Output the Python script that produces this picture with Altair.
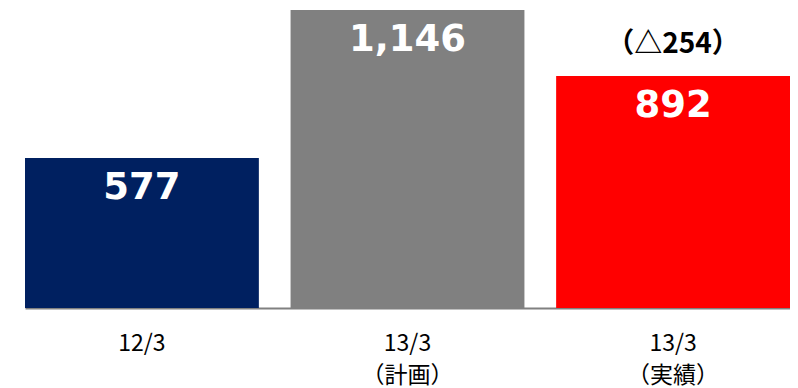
import altair as alt
import pandas as pd

categories = ["12/3", "13/3\n（計画）", "13/3\n（実績）"]
values = [577, 1146, 892]
value_labels = ["577", "1,146", "892"]
notes = ["", "", "（△254）"]
colors = ["#002060", "#808080", "#FF0000"]

df = pd.DataFrame({
    "cat": categories,
    "value": values,
    "vlabel": value_labels,
    "note": notes,
    "color": colors,
})

x = alt.X(
    "cat:N",
    sort=categories,
    scale=alt.Scale(range=[17, 782], paddingInner=0.1194, paddingOuter=0),
    axis=alt.Axis(
        title=None,
        labelAngle=0,
        ticks=False,
        domainColor="#808080",
        domainWidth=2,
        labelExpr="split(datum.label, '\\n')",
        labelFont="Noto Sans CJK JP",
        labelFontSize=23,
        labelColor="#000000",
        labelBaseline="top",
        labelPadding=24,
        labelLineHeight=32,
    ),
)
y = alt.Y("value:Q", scale=alt.Scale(domain=[0, 1154], nice=False, zero=True), axis=None)

base = alt.Chart(df)

bars = base.mark_bar().encode(
    x=x,
    y=y,
    color=alt.Color("color:N", scale=None, legend=None),
)

vals = base.mark_text(
    color="white",
    font="DejaVu Sans",
    fontWeight="bold",
    fontSize=37,
    baseline="middle",
    align="center",
    dy=30,
).encode(x=x, y=y, text="vlabel:N")

note = base.mark_text(
    color="black",
    font="Noto Sans CJK JP",
    fontWeight="bold",
    fontSize=28,
    baseline="middle",
    align="center",
    dy=-31,
).encode(x=x, y=y, text="note:N")

chart = (
    alt.layer(bars, vals, note)
    .properties(
        width=782,
        height=300,
        padding={"left": 0, "top": 0, "right": 0, "bottom": 80},
        autosize=alt.AutoSizeParams(type="none"),
    )
    .configure_view(stroke=None)
)

chart.save("out.html", embed_options={"renderer": "svg", "actions": False})
